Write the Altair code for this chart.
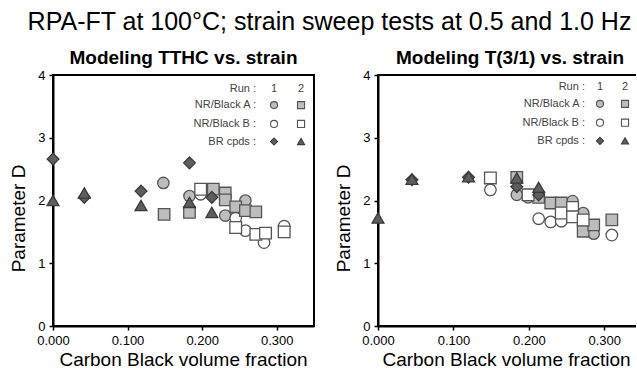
import altair as alt
import pandas as pd

FONT = "Liberation Sans"

# ---------------- Left panel: Modeling TTHC vs. strain ----------------
TTHC_NRA_R1_X = [0.148, 0.183, 0.231, 0.258]
TTHC_NRA_R1_Y = [2.28, 2.07, 1.76, 2.00]
TTHC_NRA_R2_X = [0.149, 0.183, 0.215, 0.231, 0.231, 0.245, 0.258, 0.272]
TTHC_NRA_R2_Y = [1.78, 1.81, 2.18, 2.12, 2.01, 1.90, 1.84, 1.82]
TTHC_NRB_R1_X = [0.198, 0.245, 0.258, 0.283, 0.310]
TTHC_NRB_R1_Y = [2.10, 1.72, 1.52, 1.33, 1.59]
TTHC_NRB_R2_X = [0.198, 0.245, 0.272, 0.285, 0.310]
TTHC_NRB_R2_Y = [2.18, 1.57, 1.46, 1.48, 1.50]
TTHC_BR_R1_X = [0.000, 0.042, 0.118, 0.183, 0.213]
TTHC_BR_R1_Y = [2.66, 2.05, 2.15, 2.60, 2.05]
TTHC_BR_R2_X = [0.000, 0.042, 0.118, 0.183, 0.213]
TTHC_BR_R2_Y = [2.00, 2.12, 1.92, 1.97, 1.81]

# ---------------- Right panel: Modeling T(3/1) vs. strain ----------------
T31_NRA_R1_X = [0.184, 0.199, 0.258, 0.272, 0.286]
T31_NRA_R1_Y = [2.09, 2.05, 1.99, 1.80, 1.47]
T31_NRA_R2_X = [0.184, 0.213, 0.229, 0.243, 0.272, 0.286, 0.310]
T31_NRA_R2_Y = [2.37, 2.05, 1.96, 1.96, 1.51, 1.61, 1.69]
T31_NRB_R1_X = [0.149, 0.213, 0.229, 0.243, 0.310]
T31_NRB_R1_Y = [2.17, 1.71, 1.66, 1.67, 1.45]
T31_NRB_R2_X = [0.149, 0.199, 0.243, 0.258, 0.258, 0.272]
T31_NRB_R2_Y = [2.36, 2.09, 1.80, 1.89, 1.74, 1.69]
T31_BR_R1_X = [0.045, 0.120, 0.184, 0.213]
T31_BR_R1_Y = [2.33, 2.37, 2.22, 2.09]
T31_BR_R2_X = [0.000, 0.045, 0.120, 0.184, 0.213]
T31_BR_R2_Y = [1.72, 2.34, 2.38, 2.36, 2.21]

SERIES = ["NRA1", "NRA2", "NRB1", "NRB2", "BR1", "BR2"]
SHAPES = ["circle", "square", "circle", "square", "diamond", "triangle-up"]
FILLS = ["#bdbdbd", "#bdbdbd", "#ffffff", "#ffffff", "#5e5e5e", "#5e5e5e"]
STROKES = ["#555555", "#555555", "#555555", "#555555", "#3a3a3a", "#3a3a3a"]
SIZES = [130, 140, 130, 140, 150, 120]

LEGEND_ROWS = ["Run :", "NR/Black A :", "NR/Black B :", "BR cpds :"]
LEGEND_HEAD = ["1", "2"]

XTICKS = [0.0, 0.1, 0.2, 0.3]
YTICKS = [0, 1, 2, 3, 4]


def build_df(sets):
    rows = []
    for name, xs, ys in sets:
        for x, y in zip(xs, ys):
            rows.append({"x": x, "y": y, "series": name})
    return pd.DataFrame(rows)


left_df = build_df([
    ("NRA1", TTHC_NRA_R1_X, TTHC_NRA_R1_Y),
    ("NRB1", TTHC_NRB_R1_X, TTHC_NRB_R1_Y),
    ("NRA2", TTHC_NRA_R2_X, TTHC_NRA_R2_Y),
    ("NRB2", TTHC_NRB_R2_X, TTHC_NRB_R2_Y),
    ("BR1", TTHC_BR_R1_X, TTHC_BR_R1_Y),
    ("BR2", TTHC_BR_R2_X, TTHC_BR_R2_Y),
])
right_df = build_df([
    ("NRA1", T31_NRA_R1_X, T31_NRA_R1_Y),
    ("NRB1", T31_NRB_R1_X, T31_NRB_R1_Y),
    ("NRA2", T31_NRA_R2_X, T31_NRA_R2_Y),
    ("NRB2", T31_NRB_R2_X, T31_NRB_R2_Y),
    ("BR1", T31_BR_R1_X, T31_BR_R1_Y),
    ("BR2", T31_BR_R2_X, T31_BR_R2_Y),
])

shape_enc = alt.Shape("series:N", scale=alt.Scale(domain=SERIES, range=SHAPES), legend=None)
fill_enc = alt.Fill("series:N", scale=alt.Scale(domain=SERIES, range=FILLS), legend=None)
stroke_enc = alt.Stroke("series:N", scale=alt.Scale(domain=SERIES, range=STROKES), legend=None)


def panel(title, df, width, height, lx, c1, c2, rows_y, xtitle_x):
    xs = alt.Scale(domain=[0, 0.35], nice=False, zero=True, padding=0)
    ys = alt.Scale(domain=[0, 4], nice=False, padding=0)
    xax = alt.Axis(values=XTICKS, format=".3f", title="Carbon Black volume fraction",
                   labelFlush=False, labelOverlap=False, titleX=xtitle_x)
    yax = alt.Axis(values=YTICKS, format="d", title="Parameter D",
                   titleX=-35, titleY=143, titleAlign="center", titleBaseline="middle")

    pts = alt.Chart(df).mark_point(filled=True, strokeWidth=1.3, opacity=1).encode(
        x=alt.X("x:Q", scale=xs, axis=xax),
        y=alt.Y("y:Q", scale=ys, axis=yax),
        shape=shape_enc, fill=fill_enc, stroke=stroke_enc,
        size=alt.Size("series:N", scale=alt.Scale(domain=SERIES, range=SIZES), legend=None),
    )

    # custom grid-style legend (key symbols)
    leg_sym = pd.DataFrame({
        "x": [c1, c2, c1, c2, c1, c2],
        "y": [rows_y[1], rows_y[1], rows_y[2], rows_y[2], rows_y[3], rows_y[3]],
        "series": ["NRA1", "NRA2", "NRB1", "NRB2", "BR1", "BR2"],
    })
    sym = alt.Chart(leg_sym).mark_point(filled=True, strokeWidth=1.1, opacity=1).encode(
        x="x:Q", y="y:Q", shape=shape_enc, fill=fill_enc, stroke=stroke_enc,
        size=alt.value(50),
    )
    leg_lab = pd.DataFrame({"x": [lx] * 4, "y": rows_y, "t": LEGEND_ROWS})
    labs = alt.Chart(leg_lab).mark_text(align="right", baseline="middle", fontSize=11,
                                        font=FONT, color="#444444").encode(
        x="x:Q", y="y:Q", text="t:N")
    leg_head = pd.DataFrame({"x": [c1, c2], "y": [rows_y[0]] * 2, "t": LEGEND_HEAD})
    heads = alt.Chart(leg_head).mark_text(align="center", baseline="middle", fontSize=11,
                                          font=FONT, color="#444444").encode(
        x="x:Q", y="y:Q", text="t:N")

    return alt.layer(pts, sym, labs, heads).properties(
        width=width, height=height,
        view=alt.ViewBackground(stroke="black", strokeWidth=2),
        title=alt.TitleParams(title, fontSize=19, fontWeight="bold", font=FONT,
                              color="black", offset=1, anchor="middle"),
    )


left = panel("Modeling TTHC vs. strain", left_df, 261, 251,
             0.2722, 0.2964, 0.3326, [3.78, 3.52, 3.22, 2.94], 130)
# the right panel is cropped at the page edge, as in the source figure
right = panel("Modeling T(3/1) vs. strain", right_df, 264, 251,
              0.2744, 0.2943, 0.3275, [3.81, 3.54, 3.24, 2.95], 128)

chart = alt.hconcat(left, right, spacing=18).properties(
    title=alt.TitleParams("RPA-FT at 100°C; strain sweep tests at 0.5 and 1.0 Hz",
                          fontSize=25, fontWeight="normal", font=FONT, color="black",
                          anchor="middle", offset=13, dx=4),
).configure(
    padding={"left": 8, "top": 10, "right": -7, "bottom": 0},
    font=FONT,
).configure_axis(
    grid=False, domainColor="black", domainWidth=2, tickColor="black", tickWidth=1.5,
    tickSize=4, labelFont=FONT, labelFontSize=13, labelColor="black", labelPadding=4,
    titleFont=FONT, titleFontSize=19, titleFontWeight="normal", titleColor="black",
    titlePadding=3,
)

chart.save("out.html", embed_options={"renderer": "svg", "actions": False})
